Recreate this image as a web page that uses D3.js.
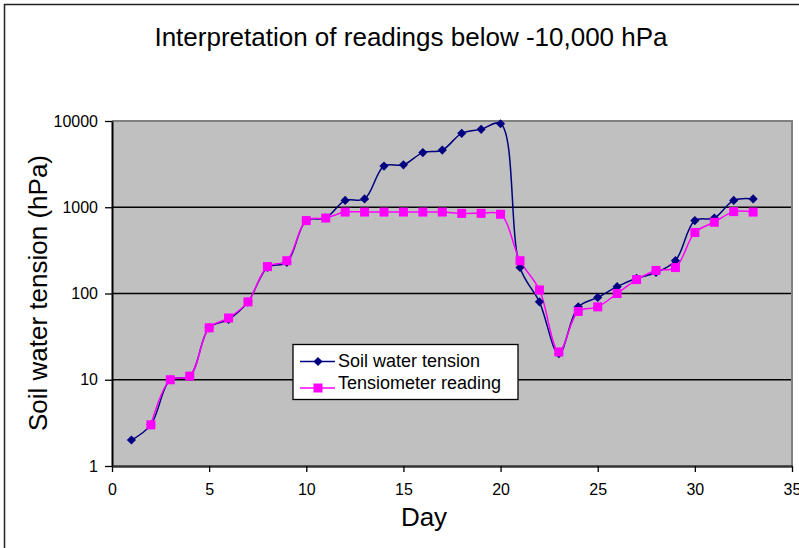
<!DOCTYPE html>
<html>
<head>
<meta charset="utf-8">
<script src="https://cdn.jsdelivr.net/npm/d3@7"></script>
<style>
  body { margin: 0; background: #fff; }
  svg { display: block; font-family: "Liberation Sans", Arial, sans-serif; }
</style>
</head>
<body>
<svg id="chart" width="799" height="548"></svg>
<script>
// chart data
const days = [1,2,3,4,5,6,7,8,9,10,11,12,13,14,15,16,17,18,19,20,21,22,23,24,25,26,27,28,29,30,31,32,33];
const soilTension = [2,3,10,11,40,50,80,200,230,700,750,1200,1250,3000,3100,4300,4600,7200,8000,9300,200,80,20,70,90,120,150,175,240,700,750,1200,1250];
const tensiometer = [null,3,10,11,40,52,80,205,240,700,750,880,880,880,880,880,880,850,850,830,240,110,21,62,70,100,145,185,200,510,670,890,880];
const xTicks = [0,5,10,15,20,25,30,35];
const yTicks = [1,10,100,1000,10000];
const seriesNames = ["Soil water tension", "Tensiometer reading"];

const svg = d3.select("#chart");
const plot = {left: 112, right: 792, top: 121, bottom: 466};

const x = d3.scaleLinear().domain([0, 35]).range([plot.left, plot.right]);
const y = d3.scaleLog().domain([1, 10000]).range([plot.bottom, plot.top]);

// outer frame
svg.append("rect")
  .attr("x", 4.5).attr("y", 4.5)
  .attr("width", 830).attr("height", 580)
  .attr("fill", "none").attr("stroke", "#222").attr("stroke-width", 1.5);

// title
svg.append("text")
  .attr("x", 411).attr("y", 46)
  .attr("text-anchor", "middle")
  .attr("font-size", 26)
  .text("Interpretation of readings below -10,000 hPa");

// plot area
svg.append("rect")
  .attr("x", plot.left).attr("y", plot.top)
  .attr("width", plot.right - plot.left).attr("height", plot.bottom - plot.top)
  .attr("fill", "#c0c0c0");

svg.append("defs").append("clipPath").attr("id", "clip")
  .append("rect")
  .attr("x", plot.left).attr("y", plot.top - 3)
  .attr("width", plot.right - plot.left).attr("height", plot.bottom - plot.top + 3);

// gridlines
svg.append("g")
  .selectAll("line")
  .data(yTicks.slice(1, -1))
  .join("line")
    .attr("x1", plot.left).attr("x2", plot.right)
    .attr("y1", d => y(d)).attr("y2", d => y(d))
    .attr("stroke", "#000").attr("stroke-width", 1.3);

// top and right border of plot area
svg.append("path")
  .attr("d", `M${plot.left},${plot.top}H${plot.right}V${plot.bottom}`)
  .attr("fill", "none").attr("stroke", "#808080").attr("stroke-width", 2);

// axes
const yAxis = d3.axisLeft(y)
  .tickValues(yTicks)
  .tickFormat(d3.format("d"))
  .tickSizeInner(7).tickSizeOuter(0).tickPadding(7);

svg.append("g")
  .attr("transform", `translate(${plot.left},0)`)
  .call(yAxis)
  .call(g => g.select(".domain").attr("stroke", "#000").attr("stroke-width", 2))
  .call(g => g.selectAll(".tick line").attr("stroke", "#000").attr("stroke-width", 1.3))
  .call(g => g.selectAll(".tick text")
    .attr("font-size", 16).attr("fill", "#000")
    .attr("font-family", "Liberation Sans, Arial, sans-serif"));

const xAxis = d3.axisBottom(x)
  .tickValues(xTicks)
  .tickSizeInner(6).tickSizeOuter(0).tickPadding(12);

svg.append("g")
  .attr("transform", `translate(0,${plot.bottom})`)
  .call(xAxis)
  .call(g => g.select(".domain").attr("stroke", "#333").attr("stroke-width", 2.5))
  .call(g => g.selectAll(".tick line").attr("stroke", "#000").attr("stroke-width", 1.3))
  .call(g => g.selectAll(".tick text")
    .attr("font-size", 16).attr("fill", "#000")
    .attr("font-family", "Liberation Sans Narrow, Liberation Sans, Arial, sans-serif"));

// axis titles
svg.append("text")
  .attr("x", 424).attr("y", 526)
  .attr("text-anchor", "middle")
  .attr("font-size", 26)
  .text("Day");

svg.append("text")
  .attr("transform", "translate(47,293) rotate(-90)")
  .attr("text-anchor", "middle")
  .attr("font-size", 26)
  .text("Soil water tension (hPa)");

// series
const soil = days.map((d, i) => ({day: d, v: soilTension[i]}));
const tens = days.map((d, i) => ({day: d, v: tensiometer[i]})).filter(d => d.v != null);

// centripetal catmull-rom: smooth like Excel without big overshoots
const line = d3.line()
  .x(d => x(d.day))
  .y(d => y(d.v))
  .curve(d3.curveCatmullRom.alpha(0.5));

const series = svg.append("g").attr("clip-path", "url(#clip)");

series.append("path")
  .datum(soil)
  .attr("d", line)
  .attr("fill", "none").attr("stroke", "#000080").attr("stroke-width", 1.5);

series.append("path")
  .datum(tens)
  .attr("d", line)
  .attr("fill", "none").attr("stroke", "#ff00ff").attr("stroke-width", 1.5);

const diamond = d3.symbol().type(d3.symbolSquare).size(42);

svg.append("g")
  .selectAll("path")
  .data(soil)
  .join("path")
    .attr("transform", d => `translate(${x(d.day)},${y(d.v)}) rotate(45)`)
    .attr("d", diamond)
    .attr("fill", "#000080");

svg.append("g")
  .selectAll("rect")
  .data(tens)
  .join("rect")
    .attr("x", d => x(d.day) - 4.5).attr("y", d => y(d.v) - 4.5)
    .attr("width", 9).attr("height", 9)
    .attr("fill", "#ff00ff");

// legend
const legend = svg.append("g");
legend.append("rect")
  .attr("x", 293).attr("y", 344.5)
  .attr("width", 225).attr("height", 55)
  .attr("fill", "#fff").attr("stroke", "#000").attr("stroke-width", 1.3);

const legendRows = [
  {name: seriesNames[0], color: "#000080", ly: 361.5, ty: 367},
  {name: seriesNames[1], color: "#ff00ff", ly: 388, ty: 388.5}
];

legendRows.forEach((r, i) => {
  legend.append("line")
    .attr("x1", 300).attr("x2", 335)
    .attr("y1", r.ly).attr("y2", r.ly)
    .attr("stroke", r.color).attr("stroke-width", 1.5);
  if (i === 0) {
    legend.append("path")
      .attr("transform", `translate(318,${r.ly}) rotate(45)`)
      .attr("d", diamond)
      .attr("fill", r.color);
  } else {
    legend.append("rect")
      .attr("x", 313.5).attr("y", r.ly - 4.5)
      .attr("width", 9).attr("height", 9)
      .attr("fill", r.color);
  }
  legend.append("text")
    .attr("x", 338).attr("y", r.ty)
    .attr("font-size", 18)
    .text(r.name);
});
</script>
</body>
</html>
